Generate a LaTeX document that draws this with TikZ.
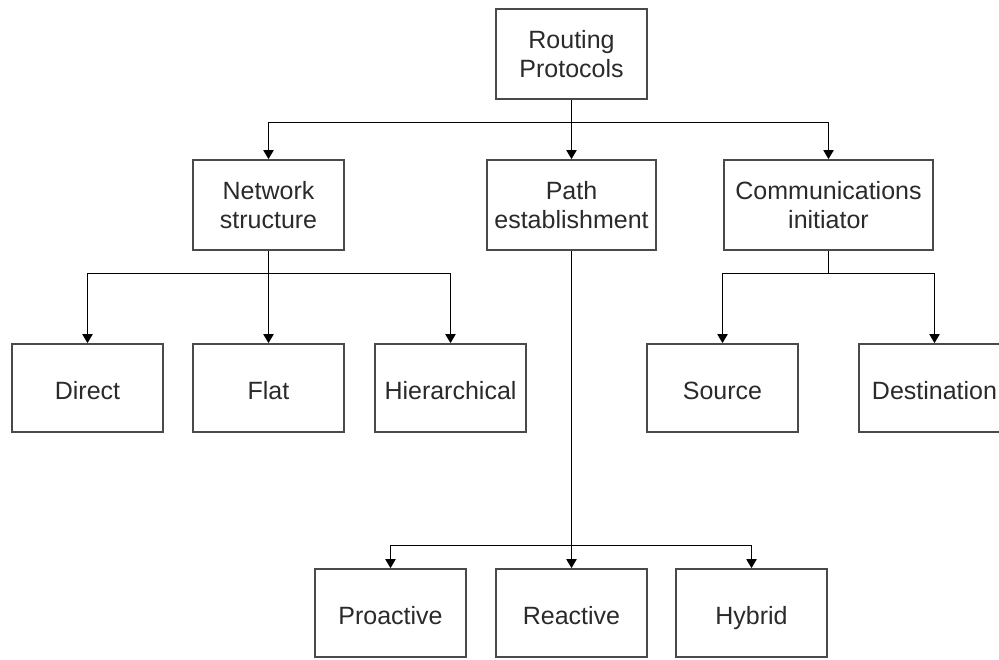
\documentclass[tikz,border=0pt]{standalone}
\usepackage{fontspec}
\setmainfont{Liberation Sans}
\usetikzlibrary{arrows.meta}
\definecolor{boxline}{HTML}{4A4A4A}
\definecolor{txt}{HTML}{2A2A2A}
\tikzset{
  basebox/.style={draw=boxline, line width=1.6pt, minimum width=151pt,
              inner sep=0pt, align=center, text=txt,
              font=\fontsize{25}{29}\selectfont},
  box/.style={basebox, minimum height=88pt, text height=24pt, text depth=2pt},
  widebox/.style={basebox, minimum height=90pt},
  link/.style={draw=black, line width=1.8pt},
  arr/.style={link, -{Triangle[width=10pt,length=9pt]}}
}
\begin{document}
\begin{tikzpicture}[x=1pt,y=-1pt]
\useasboundingbox (0,0) rectangle (999,659);
\clip (0,0) rectangle (999,659);

% top level
\node[widebox] (rp) at (571.5,54) {Routing\\Protocols};

% second level
\node[widebox] (ns) at (268.5,205) {Network\\structure};
\node[widebox, minimum width=169pt] (pe) at (571.5,205) {Path\\establishment};
\node[widebox, minimum width=209pt] (ci) at (828.5,205) {Communications\\initiator};

% third level
\node[box] (di) at (87.5,388) {Direct};
\node[box] (fl) at (268.5,388) {Flat};
\node[box] (hi) at (450.5,388) {Hierarchical};
\node[box] (so) at (722.5,388) {Source};
\node[box] (de) at (934.5,388) {Destination};

% fourth level
\node[box] (pr) at (390.5,613) {Proactive};
\node[box] (re) at (571.5,613) {Reactive};
\node[box] (hy) at (751.5,613) {Hybrid};

% junctions
\coordinate (j1) at (571.5,122.5);
\coordinate (j2) at (268.5,273.5);
\coordinate (j3) at (828.5,273.5);
\coordinate (j4) at (571.5,545.5);

% routing protocols -> second level
\draw[link] (rp.south) -- (j1);
\draw[arr] (j1) -| (ns.north);
\draw[arr] (j1) -- (pe.north);
\draw[arr] (j1) -| (ci.north);

% network structure -> its kinds
\draw[link] (ns.south) -- (j2);
\draw[arr] (j2) -| (di.north);
\draw[arr] (j2) -- (fl.north);
\draw[arr] (j2) -| (hi.north);

% communications initiator -> its kinds
\draw[link] (ci.south) -- (j3);
\draw[arr] (j3) -| (so.north);
\draw[arr] (j3) -| (de.north);

% path establishment -> its kinds
\draw[link] (pe.south) -- (j4);
\draw[arr] (j4) -| (pr.north);
\draw[arr] (j4) -- (re.north);
\draw[arr] (j4) -| (hy.north);
\end{tikzpicture}
\end{document}
